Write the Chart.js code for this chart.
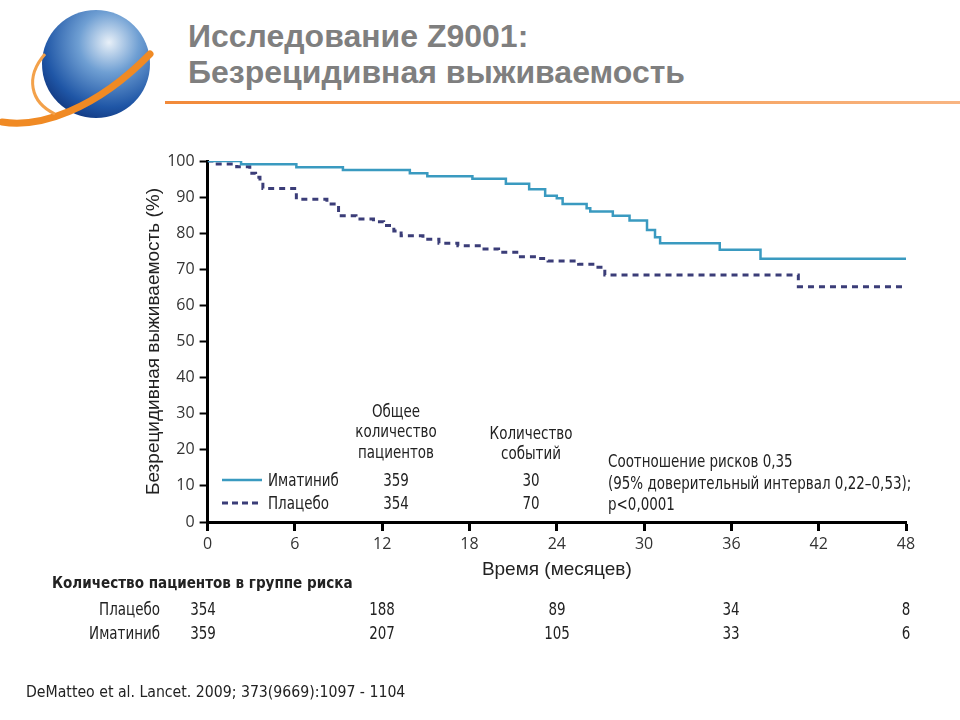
<!DOCTYPE html>
<html lang="ru">
<head>
<meta charset="utf-8">
<title>Исследование Z9001: Безрецидивная выживаемость</title>
<script src="https://cdn.jsdelivr.net/npm/chart.js@4.4.1/dist/chart.umd.min.js"></script>
<style>
  html, body { margin: 0; padding: 0; background: #fff; }
  #page { position: relative; width: 960px; height: 720px; overflow: hidden; }
  #chartBox { position: absolute; left: 0; top: 0; width: 960px; height: 720px; }
  .txt { position: absolute; white-space: nowrap; color: #222;
         font-family: "Liberation Sans Narrow", "DejaVu Sans Condensed", sans-serif;
         font-size: 17px; line-height: 20px;
         transform: scaleX(0.88); transform-origin: left center; }
  .ctr { transform: translateX(-50%) scaleX(0.88); transform-origin: center center; text-align: center; }
  .rgt { transform: translateX(-100%) scaleX(0.88); transform-origin: right center; text-align: right; }
  #title { position: absolute; left: 188px; top: 18px; color: #7f7f7f;
           font-family: "Liberation Sans", Arial, sans-serif; font-weight: bold;
           font-size: 32px; line-height: 36px; }
  #rule { position: absolute; left: 165px; top: 101px; width: 795px; height: 3px;
          background: linear-gradient(90deg, #f28a3a, #f6a15c 60%, #f8b582); }
</style>
</head>
<body>
<div id="page">
  <svg id="logo" width="170" height="135" style="position:absolute;left:0;top:0">
    <defs>
      <radialGradient id="gl" cx="0.62" cy="0.3" r="0.8">
        <stop offset="0" stop-color="#e8f0f8"/>
        <stop offset="0.35" stop-color="#6f9fd3"/>
        <stop offset="0.75" stop-color="#1f56a6"/>
        <stop offset="1" stop-color="#0e2f74"/>
      </radialGradient>
    </defs>
    <circle cx="96" cy="64" r="54" fill="url(#gl)"/>
    <path d="M2,122 C40,128 95,110 150,54" fill="none" stroke="#f08a24" stroke-width="7" stroke-linecap="round"/>
    <path d="M45,54 C25,77 30,102 55,114" fill="none" stroke="#f3a14a" stroke-width="3"/>
  </svg>
  <div id="title">Исследование Z9001:<br>Безрецидивная выживаемость</div>
  <div id="rule"></div>
  <div id="chartBox"><canvas id="km"></canvas></div>
  <div id="overlay"></div>
</div>
<script>
// --- data (month, % event-free) ---
const imatinibMonths = [0, 2.3, 6.1, 9.3, 13.9, 15.1, 18.2, 20.5, 22.1, 23.2, 24.0, 24.4, 26.05, 26.3, 27.85, 29.0, 30.2, 30.75, 31.1, 35.2, 38.0, 48];
const imatinibSurv   = [100, 99.1, 98.3, 97.5, 96.6, 95.8, 95.1, 93.7, 92.2, 90.4, 89.7, 88.1, 86.9, 86.0, 84.8, 83.5, 80.9, 78.9, 77.2, 75.4, 72.9, 72.9];

const placeboMonths = [0, 0.4, 2.0, 2.9, 3.3, 3.6, 3.8, 6.1, 8.2, 9.0, 10.2, 11.4, 12.1, 12.8, 13.3, 14.8, 15.9, 17.2, 18.8, 20.0, 21.5, 22.6, 23.4, 25.5, 26.7, 27.3, 40.6, 48];
const placeboSurv   = [100, 99.2, 98.4, 96.6, 95.5, 94.1, 92.4, 89.4, 88.1, 84.8, 83.9, 83.2, 82.1, 80.6, 79.3, 78.3, 77.2, 76.5, 75.6, 74.7, 73.5, 73.0, 72.3, 71.4, 70.6, 68.4, 65.2, 65.2];

const xTicks = [0, 6, 12, 18, 24, 30, 36, 42, 48];
const yTicks = [0, 10, 20, 30, 40, 50, 60, 70, 80, 90, 100];

// risk table
const riskMonths   = [0, 12, 24, 36, 48];
const riskPlacebo  = [354, 188, 89, 34, 8];
const riskImatinib = [359, 207, 105, 33, 6];

// summary table
const groups      = ['Иматиниб', 'Плацебо'];
const totalPts    = [359, 354];
const eventCounts = [30, 70];

const COL_IMA = '#3a9ac0';
const COL_PLA = '#3b3d78';
const tickFont = { family: '"Open Sans", "DejaVu Sans", sans-serif', size: 16 };

function toPoints(xs, ys) { return xs.map((x, i) => ({ x, y: ys[i] })); }

const chart = new Chart(document.getElementById('km'), {
  type: 'line',
  data: {
    datasets: [
      {
        label: groups[0],
        data: toPoints(imatinibMonths, imatinibSurv),
        borderColor: COL_IMA,
        borderWidth: 2.5,
        stepped: 'before',
        pointRadius: 0,
        fill: false,
      },
      {
        label: groups[1],
        data: toPoints(placeboMonths, placeboSurv),
        borderColor: COL_PLA,
        borderWidth: 3,
        borderDash: [6, 5],
        stepped: 'before',
        pointRadius: 0,
        fill: false,
      },
    ],
  },
  options: {
    responsive: true,
    maintainAspectRatio: false,
    animation: false,
    layout: { padding: { left: 140, top: 161, right: 54, bottom: 139 } },
    plugins: { legend: { display: false }, tooltip: { enabled: false } },
    scales: {
      x: {
        type: 'linear', min: 0, max: 48,
        afterBuildTicks: s => { s.ticks = xTicks.map(v => ({ value: v })); },
        afterFit: s => { s.height = 59; },
        border: { display: true, color: '#000', width: 3 },
        grid: { drawOnChartArea: false, drawTicks: true, tickLength: 9, tickWidth: 3, tickColor: '#000' },
        ticks: { color: '#333', font: tickFont, padding: 4, maxRotation: 0 },
        title: { display: true, text: 'Время (месяцев)', color: '#222',
                 font: { family: '"Liberation Sans", Arial, sans-serif', size: 19 }, padding: { top: 0, bottom: 0 } },
      },
      y: {
        min: 0, max: 100,
        afterBuildTicks: s => { s.ticks = yTicks.map(v => ({ value: v })); },
        afterFit: s => { s.width = 67.6; },
        border: { display: true, color: '#000', width: 3 },
        grid: { drawOnChartArea: false, drawTicks: true, tickLength: 8, tickWidth: 2, tickColor: '#000' },
        ticks: { color: '#333', font: tickFont, padding: 5 },
        title: { display: true, text: 'Безрецидивная выживаемость (%)', color: '#222',
                 font: { family: '"Liberation Sans", Arial, sans-serif', size: 19 }, padding: { top: 2, bottom: 0 } },
      },
    },
  },
});

// --- text overlays ---
const overlay = document.getElementById('overlay');
function addText(text, x, yCenter, cls, extra) {
  const d = document.createElement('div');
  d.className = 'txt ' + (cls || '');
  d.textContent = text;
  d.style.left = x + 'px';
  d.style.top = (yCenter - 10) + 'px';
  if (extra) Object.assign(d.style, extra);
  overlay.appendChild(d);
  return d;
}

// summary table inside the plot
addText('Общее', 396, 411, 'ctr');
addText('количество', 396, 431, 'ctr');
addText('пациентов', 396, 452, 'ctr');
addText('Количество', 531, 433, 'ctr');
addText('событий', 531, 453, 'ctr');
const rowY = [480, 503];
groups.forEach((g, i) => {
  addText(g, 268, rowY[i]);
  addText(String(totalPts[i]), 396, rowY[i], 'ctr');
  addText(String(eventCounts[i]), 531, rowY[i], 'ctr');
});
addText('Соотношение рисков 0,35', 608, 461);
addText('(95% доверительный интервал 0,22–0,53);', 608, 483);
addText('p<0,0001', 608, 504);

// legend line samples
const svgNS = 'http://www.w3.org/2000/svg';
const leg = document.createElementNS(svgNS, 'svg');
leg.setAttribute('width', '60'); leg.setAttribute('height', '40');
Object.assign(leg.style, { position: 'absolute', left: '215px', top: '470px' });
[[COL_IMA, 2.5, null, 10], [COL_PLA, 3, '6 4', 33]].forEach(([c, w, dash, y]) => {
  const l = document.createElementNS(svgNS, 'line');
  l.setAttribute('x1', 7); l.setAttribute('x2', 47);
  l.setAttribute('y1', y); l.setAttribute('y2', y);
  l.setAttribute('stroke', c); l.setAttribute('stroke-width', w);
  if (dash) l.setAttribute('stroke-dasharray', dash);
  leg.appendChild(l);
});
overlay.appendChild(leg);

// risk table
addText('Количество пациентов в группе риска', 52, 583, '', { fontWeight: 'bold', fontSize: '16px', transform: 'scaleX(0.94)' });
const xs = chart.scales.x;
addText('Плацебо', 160, 609, 'rgt');
addText('Иматиниб', 160, 633, 'rgt');
riskMonths.forEach((m, i) => {
  const px = xs.getPixelForValue(m) - (i === 0 ? 5 : 0);
  addText(String(riskPlacebo[i]), px, 609, 'ctr');
  addText(String(riskImatinib[i]), px, 633, 'ctr');
});

// source
addText('DeMatteo et al. Lancet. 2009; 373(9669):1097 - 1104', 26, 692, '', { fontSize: '16px', transform: 'scaleX(0.98)' });
</script>
</body>
</html>
